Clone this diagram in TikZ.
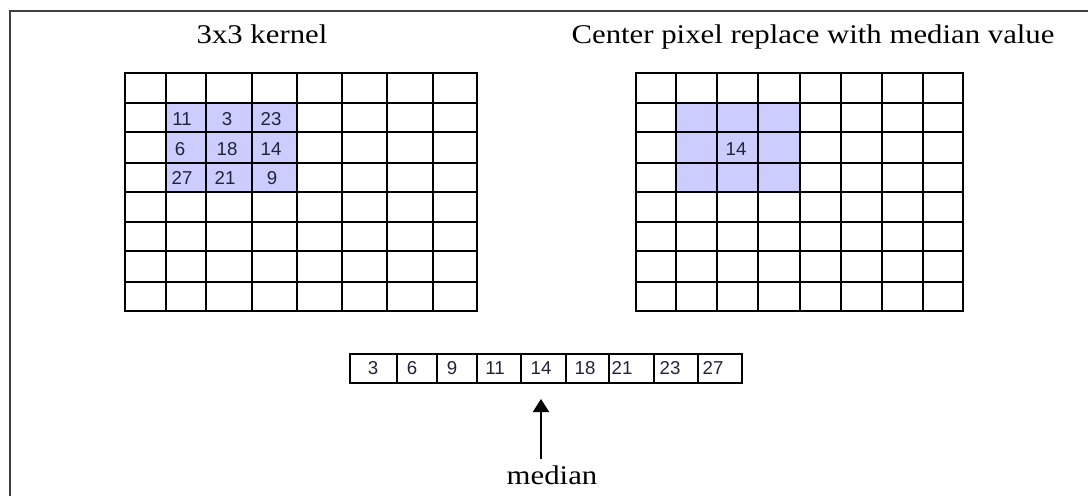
\documentclass[tikz,border=0pt]{standalone}
\usepackage{fontspec}
\setmainfont{Liberation Serif}
\newfontfamily\titlefont[FakeStretch=1.14]{Liberation Serif}
\newfontfamily\numfont{Liberation Sans}
\usetikzlibrary{arrows.meta}
\definecolor{hl}{RGB}{204,204,255}
\definecolor{numc}{RGB}{34,34,56}
\definecolor{framec}{RGB}{64,64,64}
\begin{document}
\begin{tikzpicture}[x=0.75pt,y=-0.75pt,
  title/.style={font=\titlefont\fontsize{20.25}{24}\selectfont, inner sep=0pt, anchor=base},
  num/.style={font=\numfont\fontsize{14}{16}\selectfont, text=numc, inner sep=0pt},
  gridline/.style={line width=1.6pt, black, line cap=rect},
  arrline/.style={line width=1.2pt, black, line cap=rect},
  pointer/.style={line width=1.5pt, black, -{Triangle[width=12pt,length=9.75pt]}},
]
\useasboundingbox (0,0) rectangle (1088,496);
\draw[framec, line width=1.5pt] (10,496) -- (10,11) -- (1088,11);

% titles
\node[title] (t1) at (262,43) {3x3 kernel};
\node[title] (t2) at (813,43) {Center pixel replace with median value};

% left grid
\fill[hl] (166,103) rectangle (297,192);
\foreach \x in {125,166,206,252,297,342,387,433,477} \draw[gridline] (\x,73) -- (\x,311);
\foreach \y in {73,103,132,163,192,222,251,282,311} \draw[gridline] (125,\y) -- (477,\y);

\node[num] (k11) at (182,119) {11};
\node[num] (k12) at (227,119) {3};
\node[num] (k13) at (271,119) {23};
\node[num] (k21) at (180,149) {6};
\node[num] (k22) at (227,149) {18};
\node[num] (k23) at (271,149) {14};
\node[num] (k31) at (182,178) {27};
\node[num] (k32) at (225,178) {21};
\node[num] (k33) at (272,178) {9};

% right grid
\fill[hl] (676,103) rectangle (800,192);
\foreach \x in {636,676,717,758,800,841,882,923,963} \draw[gridline] (\x,73) -- (\x,311);
\foreach \y in {73,103,132,163,192,222,251,282,311} \draw[gridline] (636,\y) -- (963,\y);
\node[num] (r22) at (736,149) {14};

% sorted array
\draw[arrline] (350,354) rectangle (742,383);
\foreach \x in {397,437,477,521,566,609,654,698} \draw[arrline] (\x,354) -- (\x,383);
\node[num] (a1) at (373,368) {3};
\node[num] (a2) at (412,368) {6};
\node[num] (a3) at (452,368) {9};
\node[num] (a4) at (495,368) {11};
\node[num] (a5) at (541,368) {14};
\node[num] (a6) at (585,368) {18};
\node[num] (a7) at (622,368) {21};
\node[num] (a8) at (670,368) {23};
\node[num] (a9) at (713,368) {27};

% median arrow
\node[title] (med) at (552,484) {median};
\coordinate (atail) at (541,459);
\coordinate (atip) at (541,399);
\draw[pointer] (atail) -- (atip);
\end{tikzpicture}
\end{document}
